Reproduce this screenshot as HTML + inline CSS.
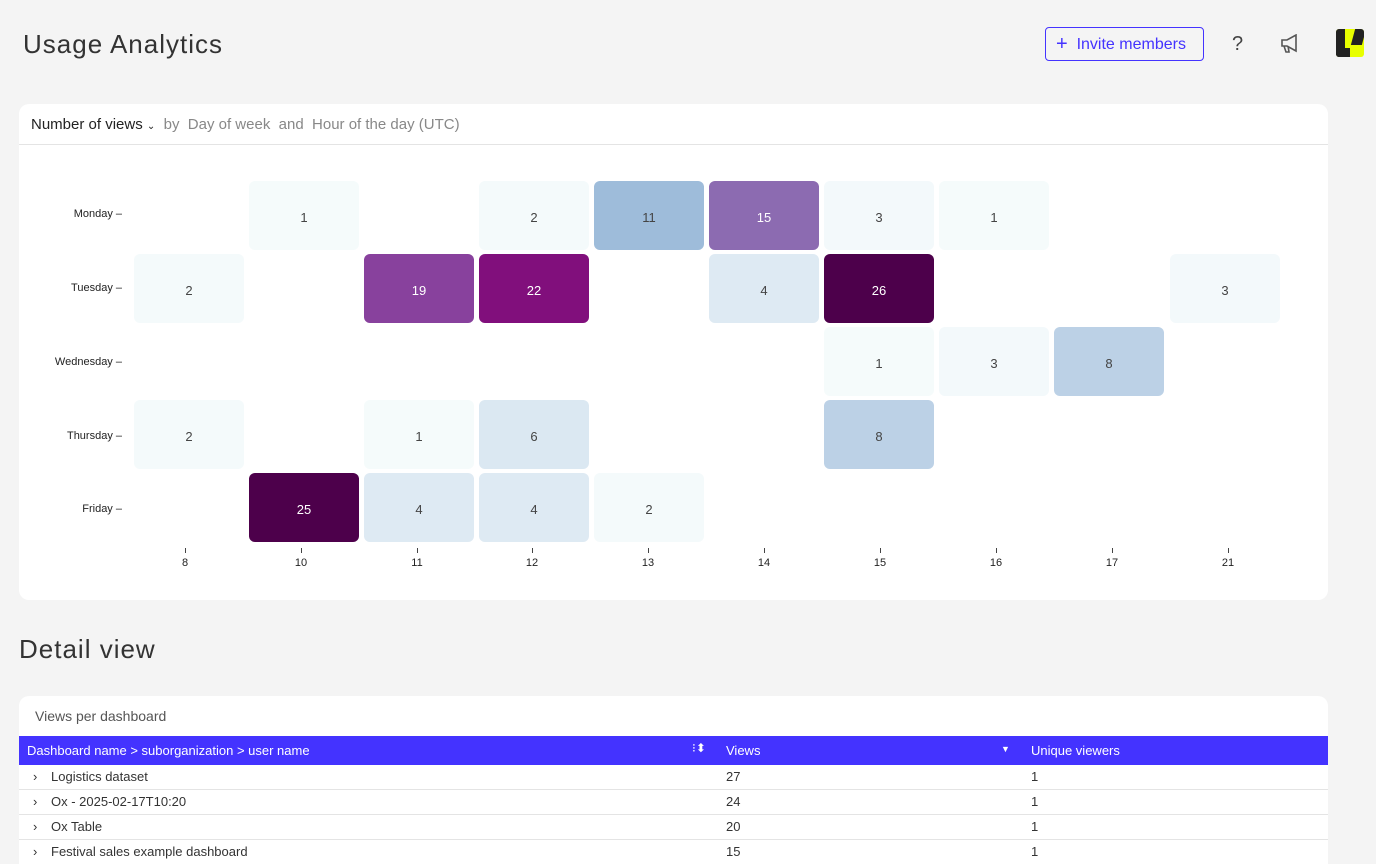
<!DOCTYPE html>
<html style="overflow:hidden;height:864px"><head><meta charset="utf-8"><style>
*{box-sizing:border-box;margin:0;padding:0}
body{width:1376px;height:864px;background:#f4f4f4;font-family:"Liberation Sans",sans-serif;position:relative;overflow:hidden;color:#333}
.abs{position:absolute}
.card{position:absolute;background:#fff;border-radius:10px}
.cell{position:absolute;width:110px;height:69px;border-radius:6px;display:flex;align-items:center;justify-content:center;font-size:13px;color:#444;padding-top:3px}
.day{position:absolute;right:1254px;font-size:11px;color:#222;text-align:right;white-space:nowrap}
.tick{position:absolute;top:548px;width:40px;margin-left:-20px;text-align:center;font-size:11px;color:#222}
.tick:before{content:"";display:block;width:1px;height:5px;background:#444;margin:0 auto 4px}
.row{position:absolute;left:19px;width:1309px;height:25px;border-bottom:1px solid #e4e4e4;font-size:13px;color:#333;background:#fff}
.row span{position:absolute;top:4px}
</style></head><body>
<div class="abs" style="left:23px;top:29px;font-size:26px;color:#333;letter-spacing:1px">Usage Analytics</div>
<div class="abs" style="left:1045px;top:27px;width:159px;height:34px;border:1px solid #4433ff;border-radius:4px;color:#4433ff;font-size:16px;line-height:32px;padding-left:10px"><span style="font-size:20px;vertical-align:-1px">+</span>&nbsp; Invite members</div>
<div class="abs" style="left:1232px;top:33px;font-size:20px;color:#444">?</div>
<svg class="abs" style="left:1280px;top:34px" width="22" height="20"><path d="M2 6h5l9-5v16l-9-5H2z M4 12l2 6h3l-1-6" fill="none" stroke="#555" stroke-width="1.6"/></svg>
<div class="abs" style="left:1336px;top:29px;width:28px;height:28px;background:#e8ff00;border-radius:3px;overflow:hidden"><div style="position:absolute;left:0;top:0;width:9px;height:28px;background:#222"></div><div style="position:absolute;left:0;top:19px;width:14px;height:9px;background:#222"></div><div style="position:absolute;left:17px;top:0;width:11px;height:16px;background:#222;transform:skewX(-15deg)"></div></div>

<div class="card" style="left:19px;top:104px;width:1309px;height:496px"></div>
<div class="abs" style="left:19px;top:144px;width:1309px;height:1px;background:#e4e4e4"></div>
<div class="abs" style="left:31px;top:116px;font-size:15px;color:#222">Number of views <span style="font-size:10px">&#8964;</span> <span style="color:#888">&nbsp;by &nbsp;Day of week &nbsp;and &nbsp;Hour of the day (UTC)</span></div>

<div class="day" style="top:208px">Monday –</div>
<div class="day" style="top:282px">Tuesday –</div>
<div class="day" style="top:356px">Wednesday –</div>
<div class="day" style="top:430px">Thursday –</div>
<div class="day" style="top:503px">Friday –</div>

<div class="cell" style="left:249px;top:181px;background:#f5fbfb">1</div>
<div class="cell" style="left:479px;top:181px;background:#f4fafb">2</div>
<div class="cell" style="left:594px;top:181px;background:#9ebcda">11</div>
<div class="cell" style="left:709px;top:181px;background:#8c6bb1;color:#fff">15</div>
<div class="cell" style="left:824px;top:181px;background:#f3f9fb">3</div>
<div class="cell" style="left:939px;top:181px;background:#f5fbfb">1</div>
<div class="cell" style="left:134px;top:254px;background:#f4fafb">2</div>
<div class="cell" style="left:364px;top:254px;background:#88419d;color:#fff">19</div>
<div class="cell" style="left:479px;top:254px;background:#810f7c;color:#fff">22</div>
<div class="cell" style="left:709px;top:254px;background:#deeaf3">4</div>
<div class="cell" style="left:824px;top:254px;background:#4d004b;color:#fff">26</div>
<div class="cell" style="left:1170px;top:254px;background:#f3f9fb">3</div>
<div class="cell" style="left:824px;top:327px;background:#f5fbfb">1</div>
<div class="cell" style="left:939px;top:327px;background:#f3f9fb">3</div>
<div class="cell" style="left:1054px;top:327px;background:#bcd1e6">8</div>
<div class="cell" style="left:134px;top:400px;background:#f4fafb">2</div>
<div class="cell" style="left:364px;top:400px;background:#f5fbfb">1</div>
<div class="cell" style="left:479px;top:400px;background:#dbe8f2">6</div>
<div class="cell" style="left:824px;top:400px;background:#bcd1e6">8</div>
<div class="cell" style="left:249px;top:473px;background:#4d004b;color:#fff">25</div>
<div class="cell" style="left:364px;top:473px;background:#deeaf3">4</div>
<div class="cell" style="left:479px;top:473px;background:#deeaf3">4</div>
<div class="cell" style="left:594px;top:473px;background:#f4fafb">2</div>

<div class="tick" style="left:185px">8</div>
<div class="tick" style="left:301px">10</div>
<div class="tick" style="left:417px">11</div>
<div class="tick" style="left:532px">12</div>
<div class="tick" style="left:648px">13</div>
<div class="tick" style="left:764px">14</div>
<div class="tick" style="left:880px">15</div>
<div class="tick" style="left:996px">16</div>
<div class="tick" style="left:1112px">17</div>
<div class="tick" style="left:1228px">21</div>

<div class="abs" style="left:19px;top:634px;font-size:26px;color:#333;letter-spacing:1px">Detail view</div>
<div class="card" style="left:19px;top:696px;width:1309px;height:200px"></div>
<div class="abs" style="left:35px;top:708px;font-size:14px;color:#555">Views per dashboard</div>
<div class="abs" style="left:19px;top:736px;width:1309px;height:29px;background:#4433ff;color:#fff;font-size:13px">
<span class="abs" style="left:8px;top:7px">Dashboard name &gt; suborganization &gt; user name</span>
<span class="abs" style="left:673px;top:5px;font-size:12px">⁝⬍</span>
<span class="abs" style="left:707px;top:7px">Views</span>
<span class="abs" style="left:982px;top:8px;font-size:9px">▼</span>
<span class="abs" style="left:1012px;top:7px">Unique viewers</span>
</div>
<div class="row" style="top:765px"><span style="left:14px">›</span><span style="left:32px">Logistics dataset</span><span style="left:707px">27</span><span style="left:1012px">1</span></div>
<div class="row" style="top:790px"><span style="left:14px">›</span><span style="left:32px">Ox - 2025-02-17T10:20</span><span style="left:707px">24</span><span style="left:1012px">1</span></div>
<div class="row" style="top:815px"><span style="left:14px">›</span><span style="left:32px">Ox Table</span><span style="left:707px">20</span><span style="left:1012px">1</span></div>
<div class="row" style="top:840px"><span style="left:14px">›</span><span style="left:32px">Festival sales example dashboard</span><span style="left:707px">15</span><span style="left:1012px">1</span></div>
</body></html>
